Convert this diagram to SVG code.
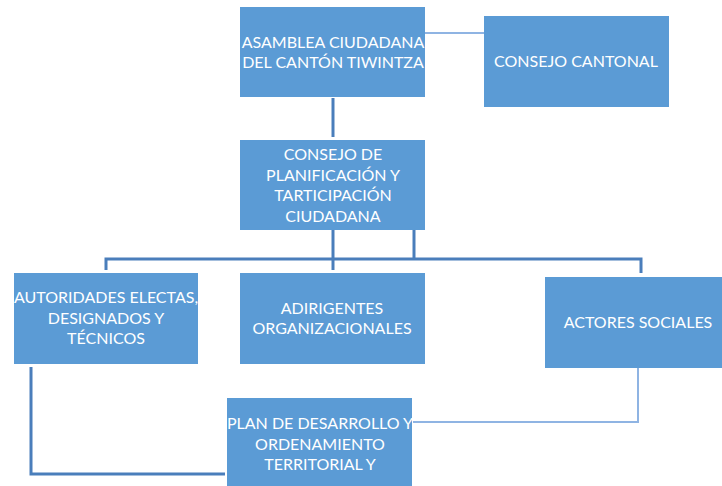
<svg xmlns="http://www.w3.org/2000/svg" width="722" height="486" viewBox="0 0 722 486">
<style>
.box{fill:#5b9bd5;}
.t{font-family:Lato,"Open Sans",sans-serif;font-size:16px;fill:#ffffff;text-anchor:middle;}
.dark{stroke:#4a7ebb;stroke-width:3;fill:none;}
.light{stroke:#8fb4e3;stroke-width:2;fill:none;}
</style>
<rect width="722" height="486" fill="#ffffff"/>
<g id="connectors">
<line class="light" x1="425" y1="33" x2="484" y2="33"/>
<line class="dark" x1="333" y1="98" x2="333" y2="137"/>
<line class="dark" x1="333" y1="230" x2="333" y2="270"/>
<line class="dark" x1="414" y1="230" x2="414" y2="259"/>
<polyline class="dark" points="106,270 106,259 641,259 641,273"/>
<polyline class="dark" points="31,367 31,474 225,474"/>
<polyline class="light" points="638,368 638,422 413,422"/>
</g>
<g id="asamblea">
<rect class="box" x="240" y="7" width="185" height="90"/>
<text class="t" x="333" y="48">ASAMBLEA CIUDADANA</text>
<text class="t" x="333" y="68">DEL CANTÓN TIWINTZA</text>
</g>
<g id="consejo-cantonal">
<rect class="box" x="484" y="16" width="185" height="91"/>
<text class="t" x="576" y="67">CONSEJO CANTONAL</text>
</g>
<g id="consejo-planificacion">
<rect class="box" x="240" y="140" width="185" height="90"/>
<text class="t" x="333" y="160">CONSEJO DE</text>
<text class="t" x="333" y="181">PLANIFICACIÓN Y</text>
<text class="t" x="333" y="201">TARTICIPACIÓN</text>
<text class="t" x="333" y="222">CIUDADANA</text>
</g>
<g id="autoridades">
<rect class="box" x="14" y="273" width="184" height="91"/>
<text class="t" x="106" y="303">AUTORIDADES ELECTAS,</text>
<text class="t" x="106" y="324">DESIGNADOS Y</text>
<text class="t" x="106" y="344">TÉCNICOS</text>
</g>
<g id="adirigentes">
<rect class="box" x="240" y="273" width="185" height="91"/>
<text class="t" x="332" y="314">ADIRIGENTES</text>
<text class="t" x="332" y="334">ORGANIZACIONALES</text>
</g>
<g id="actores">
<rect class="box" x="545" y="277" width="185" height="91"/>
<text class="t" x="638" y="328">ACTORES SOCIALES</text>
</g>
<g id="plan">
<rect class="box" x="227" y="398" width="185" height="95"/>
<text class="t" x="320" y="429">PLAN DE DESARROLLO Y</text>
<text class="t" x="320" y="450">ORDENAMIENTO</text>
<text class="t" x="320" y="470">TERRITORIAL Y</text>
</g>
</svg>
